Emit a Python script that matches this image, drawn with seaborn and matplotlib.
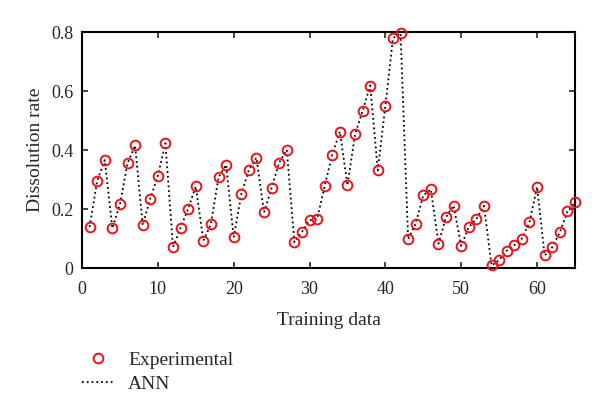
import numpy as np
import pandas as pd
import matplotlib
matplotlib.use("Agg")
import matplotlib.pyplot as plt
import seaborn as sns

training = list(range(1, 66))
experimental = [0.140, 0.296, 0.366, 0.135, 0.216, 0.355, 0.416, 0.146, 0.236, 0.313,
                0.423, 0.071, 0.137, 0.202, 0.277, 0.093, 0.149, 0.308, 0.350, 0.104,
                0.250, 0.333, 0.374, 0.189, 0.272, 0.358, 0.401, 0.088, 0.123, 0.162,
                0.166, 0.279, 0.385, 0.463, 0.281, 0.453, 0.533, 0.619, 0.331, 0.551,
                0.779, 0.797, 0.098, 0.151, 0.247, 0.267, 0.083, 0.173, 0.212, 0.075,
                0.139, 0.166, 0.211, 0.009, 0.027, 0.059, 0.078, 0.100, 0.155, 0.275,
                0.043, 0.071, 0.121, 0.192, 0.223]
ann = list(experimental)
xticks = [0, 10, 20, 30, 40, 50, 60]
yticks = [0, 0.2, 0.4, 0.6, 0.8]
ytick_labels = ["0", "0.2", "0.4", "0.6", "0.8"]

sns.set_style("ticks")
plt.rcParams['font.family'] = ['Liberation Serif', 'DejaVu Serif']
plt.rcParams['xtick.direction'] = 'in'
plt.rcParams['ytick.direction'] = 'in'

df = pd.DataFrame({"x": training, "exp": experimental, "ann": ann})

fig = plt.figure(figsize=(6, 4.17), dpi=100)
ax = fig.add_axes([0.1367, 0.357, 0.8216, 0.566])

sns.lineplot(data=df, x="x", y="ann", ax=ax, color="black", linestyle=":",
             linewidth=1.3, label="ANN", legend=False)
sns.lineplot(data=df, x="x", y="exp", ax=ax, marker="o", linestyle="", color="#e8141c",
             markerfacecolor="none", markeredgecolor="#e8141c", markersize=7,
             markeredgewidth=1.4, label="Experimental", legend=False, clip_on=False,
             zorder=5)

ax.set_xlim(0, 65)
ax.set_ylim(0, 0.8)
ax.set_xticks(xticks)
ax.set_yticks(yticks)
ax.set_yticklabels(ytick_labels)
ax.tick_params(axis="both", labelsize=13, length=4, width=1.2, top=True, right=True)
ax.tick_params(axis="x", pad=9)
ax.tick_params(axis="y", pad=6)
for s in ax.spines.values():
    s.set_linewidth(1.5)
    s.set_color("black")
ax.set_xlabel("Training data", fontsize=14, labelpad=10)
ax.set_ylabel("Dissolution rate", fontsize=14, labelpad=5)

handles, labels = ax.get_legend_handles_labels()
order = [labels.index("Experimental"), labels.index("ANN")]
fig.legend([handles[i] for i in order], [labels[i] for i in order],
           loc="upper left", bbox_to_anchor=(0.137, 0.158), frameon=False,
           fontsize=14, handlelength=1.6, handletextpad=0.75, labelspacing=0.35,
           borderaxespad=0, borderpad=0)

fig.savefig("out.png", dpi=100)
